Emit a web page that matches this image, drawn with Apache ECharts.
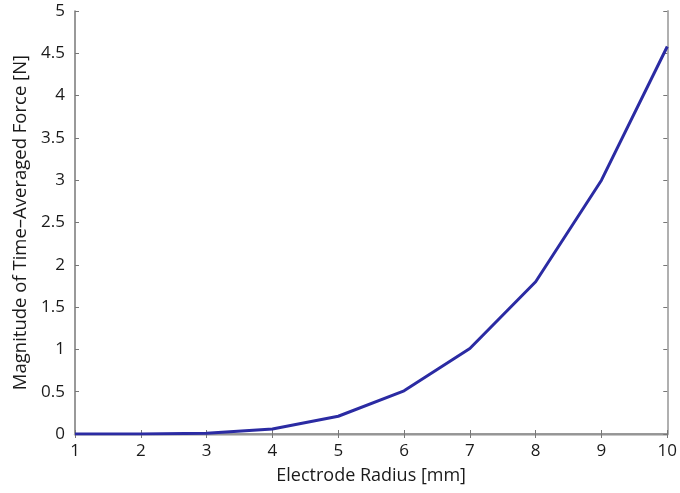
<!DOCTYPE html>
<html><head><meta charset="utf-8">
<script src="https://cdn.jsdelivr.net/npm/echarts@6/dist/echarts.min.js"></script>
<style>html,body{margin:0;padding:0;background:#fff}#c{width:680px;height:493px}</style>
</head><body><div id="c"></div>
<script>
const radius = [1, 2, 3, 4, 5, 6, 7, 8, 9, 10];
const force = [0, 0.001, 0.01, 0.06, 0.21, 0.51, 1.01, 1.80, 3.0, 4.58];
const xLabel = 'Electrode Radius [mm]';
const yLabel = 'Magnitude of Time\u2013Averaged Force [N]';
const chart = echarts.init(document.getElementById('c'));
const font = '"Open Sans", "Noto Sans", sans-serif';
const axisLine = {show: true, lineStyle: {color: '#8a8a8a', width: 1.5}};
const tick = {show: true, inside: true, length: 4, lineStyle: {color: '#777'}};
chart.setOption({
  animation: false,
  grid: {left: 75, right: 8, top: 11, bottom: 59},
  xAxis: [{
    type: 'value', min: 1, max: 10, interval: 1,
    name: xLabel, nameLocation: 'middle', nameGap: 33,
    nameTextStyle: {fontFamily: font, fontSize: 18, color: '#1a1a1a'},
    axisLine: {show: true, onZero: false, lineStyle: {color: '#b5b5b5', width: 2.5}},
    axisTick: tick,
    axisLabel: {fontFamily: font, fontSize: 17, color: '#1a1a1a', margin: 9},
    splitLine: {show: false}
  }, {
    type: 'value', min: 1, max: 10, interval: 1, position: 'top',
    axisLine: axisLine, axisTick: tick, axisLabel: {show: false}, splitLine: {show: false}
  }],
  yAxis: [{
    type: 'value', min: 0, max: 5, interval: 0.5,
    name: yLabel, nameLocation: 'middle', nameGap: 45,
    nameTextStyle: {fontFamily: font, fontSize: 18.5, color: '#1a1a1a'},
    axisLine: {show: true, onZero: false, lineStyle: {color: '#777', width: 1.5}},
    axisTick: tick,
    axisLabel: {fontFamily: font, fontSize: 17, color: '#1a1a1a', margin: 10},
    splitLine: {show: false}
  }, {
    type: 'value', min: 0, max: 5, interval: 0.5, position: 'right',
    axisLine: {show: true, lineStyle: {color: '#b0b0b0', width: 2}},
    axisTick: tick, axisLabel: {show: false}, splitLine: {show: false}
  }],
  series: [{
    type: 'line', xAxisIndex: 0, yAxisIndex: 0,
    data: radius.map((r, i) => [r, force[i]]),
    showSymbol: false,
    lineStyle: {color: '#2b2ba3', width: 3},
    z: 5
  }]
});
</script></body></html>
